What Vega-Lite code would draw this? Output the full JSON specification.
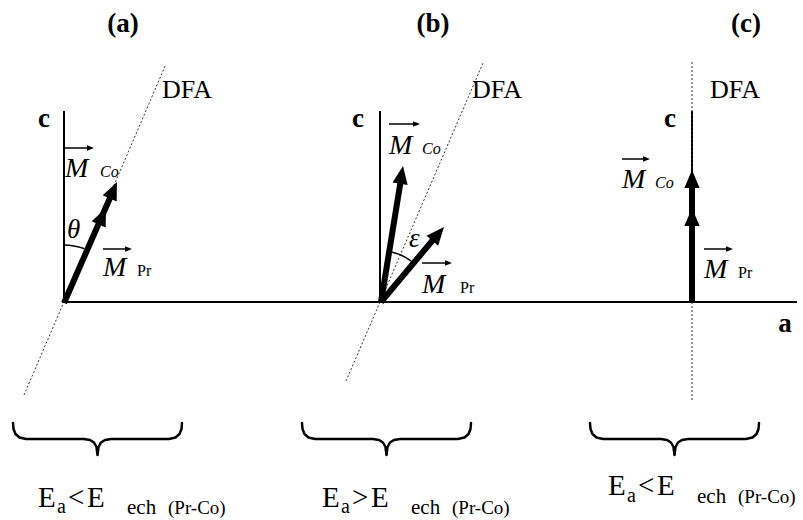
{
  "$schema": "https://vega.github.io/schema/vega-lite/v6.json",
  "width": 803,
  "height": 520,
  "padding": 0,
  "autosize": {"type": "fit", "contains": "padding"},
  "background": "white",
  "config": {"view": {"stroke": null}, "text": {"font": "'Liberation Serif', 'Times New Roman', 'DejaVu Serif', serif"}},
  "datasets": {
    "strokes": [
      {"kind": "frame", "id": "axis-a", "o": 0, "x": 62, "y": 302},
      {"kind": "frame", "id": "axis-a", "o": 1, "x": 797, "y": 302},
      {"kind": "frame", "id": "c-a", "o": 0, "x": 64, "y": 111},
      {"kind": "frame", "id": "c-a", "o": 1, "x": 64, "y": 302},
      {"kind": "frame", "id": "c-b", "o": 0, "x": 380, "y": 111},
      {"kind": "frame", "id": "c-b", "o": 1, "x": 380, "y": 302},
      {"kind": "frame", "id": "c-c", "o": 0, "x": 692, "y": 111},
      {"kind": "frame", "id": "c-c", "o": 1, "x": 692, "y": 302},
      {"kind": "dfa", "id": "dfa-a", "o": 0, "x": 24, "y": 395},
      {"kind": "dfa", "id": "dfa-a", "o": 1, "x": 166, "y": 64},
      {"kind": "dfa", "id": "dfa-b", "o": 0, "x": 346, "y": 381},
      {"kind": "dfa", "id": "dfa-b", "o": 1, "x": 483, "y": 63},
      {"kind": "dfa", "id": "dfa-c", "o": 0, "x": 692, "y": 62},
      {"kind": "dfa", "id": "dfa-c", "o": 1, "x": 692, "y": 400},
      {"kind": "vector", "id": "v-a", "o": 0, "x": 64, "y": 303},
      {"kind": "vector", "id": "v-a", "o": 1, "x": 113, "y": 191},
      {"kind": "vector", "id": "v-b-co", "o": 0, "x": 381, "y": 302},
      {"kind": "vector", "id": "v-b-co", "o": 1, "x": 401.5, "y": 176},
      {"kind": "vector", "id": "v-b-pr", "o": 0, "x": 381, "y": 302},
      {"kind": "vector", "id": "v-b-pr", "o": 1, "x": 437.5, "y": 234.5},
      {"kind": "vector", "id": "v-c", "o": 0, "x": 692, "y": 302},
      {"kind": "vector", "id": "v-c", "o": 1, "x": 692, "y": 180},
      {"kind": "arc", "id": "theta", "o": 0, "x": 64, "y": 245},
      {"kind": "arc", "id": "theta", "o": 1, "x": 69, "y": 245.2},
      {"kind": "arc", "id": "theta", "o": 2, "x": 73.9, "y": 245.9},
      {"kind": "arc", "id": "theta", "o": 3, "x": 78.8, "y": 246.9},
      {"kind": "arc", "id": "theta", "o": 4, "x": 84.4, "y": 248.8},
      {"kind": "arc", "id": "eps", "o": 0, "x": 391.4, "y": 252.1},
      {"kind": "arc", "id": "eps", "o": 1, "x": 396.5, "y": 253.4},
      {"kind": "arc", "id": "eps", "o": 2, "x": 401.3, "y": 255.3},
      {"kind": "arc", "id": "eps", "o": 3, "x": 406, "y": 257.7},
      {"kind": "arc", "id": "eps", "o": 4, "x": 411.1, "y": 261.1},
      {"kind": "over", "id": "o-a-co", "o": 0, "x": 65, "y": 148},
      {"kind": "over", "id": "o-a-co", "o": 1, "x": 88, "y": 148},
      {"kind": "over", "id": "o-a-pr", "o": 0, "x": 103, "y": 249},
      {"kind": "over", "id": "o-a-pr", "o": 1, "x": 126, "y": 249},
      {"kind": "over", "id": "o-b-co", "o": 0, "x": 389, "y": 124},
      {"kind": "over", "id": "o-b-co", "o": 1, "x": 414, "y": 124},
      {"kind": "over", "id": "o-b-pr", "o": 0, "x": 422, "y": 263},
      {"kind": "over", "id": "o-b-pr", "o": 1, "x": 446, "y": 263},
      {"kind": "over", "id": "o-c-co", "o": 0, "x": 622, "y": 159},
      {"kind": "over", "id": "o-c-co", "o": 1, "x": 644, "y": 159},
      {"kind": "over", "id": "o-c-pr", "o": 0, "x": 704, "y": 249},
      {"kind": "over", "id": "o-c-pr", "o": 1, "x": 727, "y": 249},
      {"kind": "brace", "id": "br-a", "o": 0, "x": 13, "y": 423},
      {"kind": "brace", "id": "br-a", "o": 1, "x": 13.5, "y": 429},
      {"kind": "brace", "id": "br-a", "o": 2, "x": 15.5, "y": 434},
      {"kind": "brace", "id": "br-a", "o": 3, "x": 19.5, "y": 437.5},
      {"kind": "brace", "id": "br-a", "o": 4, "x": 26, "y": 439},
      {"kind": "brace", "id": "br-a", "o": 5, "x": 84, "y": 439},
      {"kind": "brace", "id": "br-a", "o": 6, "x": 90, "y": 440},
      {"kind": "brace", "id": "br-a", "o": 7, "x": 94, "y": 442.5},
      {"kind": "brace", "id": "br-a", "o": 8, "x": 96.5, "y": 447},
      {"kind": "brace", "id": "br-a", "o": 9, "x": 97.5, "y": 455},
      {"kind": "brace", "id": "br-a", "o": 10, "x": 98.5, "y": 447},
      {"kind": "brace", "id": "br-a", "o": 11, "x": 101, "y": 442.5},
      {"kind": "brace", "id": "br-a", "o": 12, "x": 105, "y": 440},
      {"kind": "brace", "id": "br-a", "o": 13, "x": 111, "y": 439},
      {"kind": "brace", "id": "br-a", "o": 14, "x": 169, "y": 439},
      {"kind": "brace", "id": "br-a", "o": 15, "x": 175.5, "y": 437.5},
      {"kind": "brace", "id": "br-a", "o": 16, "x": 179.5, "y": 434},
      {"kind": "brace", "id": "br-a", "o": 17, "x": 181.5, "y": 429},
      {"kind": "brace", "id": "br-a", "o": 18, "x": 182, "y": 423},
      {"kind": "brace", "id": "br-b", "o": 0, "x": 302, "y": 423},
      {"kind": "brace", "id": "br-b", "o": 1, "x": 302.5, "y": 429},
      {"kind": "brace", "id": "br-b", "o": 2, "x": 304.5, "y": 434},
      {"kind": "brace", "id": "br-b", "o": 3, "x": 308.5, "y": 437.5},
      {"kind": "brace", "id": "br-b", "o": 4, "x": 315, "y": 439},
      {"kind": "brace", "id": "br-b", "o": 5, "x": 373, "y": 439},
      {"kind": "brace", "id": "br-b", "o": 6, "x": 379, "y": 440},
      {"kind": "brace", "id": "br-b", "o": 7, "x": 383, "y": 442.5},
      {"kind": "brace", "id": "br-b", "o": 8, "x": 385.5, "y": 447},
      {"kind": "brace", "id": "br-b", "o": 9, "x": 386.5, "y": 455},
      {"kind": "brace", "id": "br-b", "o": 10, "x": 387.5, "y": 447},
      {"kind": "brace", "id": "br-b", "o": 11, "x": 390, "y": 442.5},
      {"kind": "brace", "id": "br-b", "o": 12, "x": 394, "y": 440},
      {"kind": "brace", "id": "br-b", "o": 13, "x": 400, "y": 439},
      {"kind": "brace", "id": "br-b", "o": 14, "x": 458, "y": 439},
      {"kind": "brace", "id": "br-b", "o": 15, "x": 464.5, "y": 437.5},
      {"kind": "brace", "id": "br-b", "o": 16, "x": 468.5, "y": 434},
      {"kind": "brace", "id": "br-b", "o": 17, "x": 470.5, "y": 429},
      {"kind": "brace", "id": "br-b", "o": 18, "x": 471, "y": 423},
      {"kind": "brace", "id": "br-c", "o": 0, "x": 590, "y": 423},
      {"kind": "brace", "id": "br-c", "o": 1, "x": 590.5, "y": 429},
      {"kind": "brace", "id": "br-c", "o": 2, "x": 592.5, "y": 434},
      {"kind": "brace", "id": "br-c", "o": 3, "x": 596.5, "y": 437.5},
      {"kind": "brace", "id": "br-c", "o": 4, "x": 603, "y": 439},
      {"kind": "brace", "id": "br-c", "o": 5, "x": 661, "y": 439},
      {"kind": "brace", "id": "br-c", "o": 6, "x": 667, "y": 440},
      {"kind": "brace", "id": "br-c", "o": 7, "x": 671, "y": 442.5},
      {"kind": "brace", "id": "br-c", "o": 8, "x": 673.5, "y": 447},
      {"kind": "brace", "id": "br-c", "o": 9, "x": 674.5, "y": 455},
      {"kind": "brace", "id": "br-c", "o": 10, "x": 675.5, "y": 447},
      {"kind": "brace", "id": "br-c", "o": 11, "x": 678, "y": 442.5},
      {"kind": "brace", "id": "br-c", "o": 12, "x": 682, "y": 440},
      {"kind": "brace", "id": "br-c", "o": 13, "x": 688, "y": 439},
      {"kind": "brace", "id": "br-c", "o": 14, "x": 746, "y": 439},
      {"kind": "brace", "id": "br-c", "o": 15, "x": 752.5, "y": 437.5},
      {"kind": "brace", "id": "br-c", "o": 16, "x": 756.5, "y": 434},
      {"kind": "brace", "id": "br-c", "o": 17, "x": 758.5, "y": 429},
      {"kind": "brace", "id": "br-c", "o": 18, "x": 759, "y": 423}
    ],
    "heads": [
      {"kind": "big", "x": 106, "y": 208, "angle": 24},
      {"kind": "big", "x": 117, "y": 182, "angle": 24},
      {"kind": "big", "x": 403, "y": 166, "angle": 9.3},
      {"kind": "big", "x": 444, "y": 227, "angle": 40.4},
      {"kind": "big", "x": 692, "y": 170, "angle": 0},
      {"kind": "big", "x": 692, "y": 208, "angle": 0},
      {"kind": "small", "x": 94, "y": 148, "angle": 90},
      {"kind": "small", "x": 132, "y": 249, "angle": 90},
      {"kind": "small", "x": 420, "y": 124, "angle": 90},
      {"kind": "small", "x": 452, "y": 263, "angle": 90},
      {"kind": "small", "x": 650, "y": 159, "angle": 90},
      {"kind": "small", "x": 733, "y": 249, "angle": 90}
    ],
    "labels": [
      {"role": "title", "x": 123, "y": 32, "text": "(a)"},
      {"role": "title", "x": 433, "y": 32, "text": "(b)"},
      {"role": "title", "x": 746, "y": 32, "text": "(c)"},
      {"role": "axis", "x": 44, "y": 127, "text": "c"},
      {"role": "axis", "x": 358, "y": 127, "text": "c"},
      {"role": "axis", "x": 670, "y": 127, "text": "c"},
      {"role": "axis", "x": 785, "y": 332, "text": "a"},
      {"role": "dfa", "x": 162, "y": 98, "text": "DFA"},
      {"role": "dfa", "x": 472, "y": 98, "text": "DFA"},
      {"role": "dfa", "x": 710, "y": 98, "text": "DFA"},
      {"role": "M", "x": 65, "y": 177, "text": "M"},
      {"role": "M", "x": 389, "y": 154, "text": "M"},
      {"role": "M", "x": 622, "y": 188, "text": "M"},
      {"role": "M", "x": 103, "y": 276, "text": "M"},
      {"role": "M", "x": 422, "y": 293, "text": "M"},
      {"role": "M", "x": 704, "y": 278, "text": "M"},
      {"role": "co", "x": 100, "y": 177, "text": "Co"},
      {"role": "co", "x": 422, "y": 154, "text": "Co"},
      {"role": "co", "x": 655, "y": 188, "text": "Co"},
      {"role": "pr", "x": 137, "y": 276, "text": "Pr"},
      {"role": "pr", "x": 460, "y": 293, "text": "Pr"},
      {"role": "pr", "x": 738, "y": 278, "text": "Pr"},
      {"role": "greek", "x": 67, "y": 238, "text": "θ"},
      {"role": "greek", "x": 409, "y": 247, "text": "ε"},
      {"role": "big", "x": 38, "y": 507, "text": "E"},
      {"role": "sub", "x": 57, "y": 513, "text": "a"},
      {"role": "big", "x": 68, "y": 507, "text": "<"},
      {"role": "big", "x": 87, "y": 507, "text": "E"},
      {"role": "ech", "x": 127, "y": 514, "text": "ech"},
      {"role": "pc", "x": 168, "y": 514, "text": "(Pr-Co)"},
      {"role": "big", "x": 322, "y": 507, "text": "E"},
      {"role": "sub", "x": 341, "y": 513, "text": "a"},
      {"role": "big", "x": 352, "y": 507, "text": ">"},
      {"role": "big", "x": 371, "y": 507, "text": "E"},
      {"role": "ech", "x": 411, "y": 514, "text": "ech"},
      {"role": "pc", "x": 452, "y": 514, "text": "(Pr-Co)"},
      {"role": "big", "x": 608, "y": 495, "text": "E"},
      {"role": "sub", "x": 627, "y": 502, "text": "a"},
      {"role": "big", "x": 638, "y": 495, "text": "<"},
      {"role": "big", "x": 657, "y": 495, "text": "E"},
      {"role": "ech", "x": 697, "y": 503, "text": "ech"},
      {"role": "pc", "x": 738, "y": 503, "text": "(Pr-Co)"}
    ]
  },
  "encoding": {
    "x": {"field": "x", "type": "quantitative", "axis": null, "scale": {"domain": [0, 803], "nice": false, "zero": false}},
    "y": {"field": "y", "type": "quantitative", "axis": null, "scale": {"domain": [520, 0], "nice": false, "zero": false}}
  },
  "layer": [
    {
      "data": {"name": "strokes"},
      "transform": [{"filter": "datum.kind === 'frame'"}],
      "mark": {"type": "line", "color": "black", "strokeWidth": 2, "strokeCap": "butt"},
      "encoding": {"detail": {"field": "id"}, "order": {"field": "o", "type": "quantitative"}}
    },
    {
      "data": {"name": "strokes"},
      "transform": [{"filter": "datum.kind === 'dfa'"}],
      "mark": {"type": "line", "color": "#333333", "strokeWidth": 1, "strokeDash": [2, 2]},
      "encoding": {"detail": {"field": "id"}, "order": {"field": "o", "type": "quantitative"}}
    },
    {
      "data": {"name": "strokes"},
      "transform": [{"filter": "datum.kind === 'vector'"}],
      "mark": {"type": "line", "color": "black", "strokeWidth": 6, "strokeCap": "butt"},
      "encoding": {"detail": {"field": "id"}, "order": {"field": "o", "type": "quantitative"}}
    },
    {
      "data": {"name": "strokes"},
      "transform": [{"filter": "datum.kind === 'arc'"}],
      "mark": {"type": "line", "color": "black", "strokeWidth": 1.5},
      "encoding": {"detail": {"field": "id"}, "order": {"field": "o", "type": "quantitative"}}
    },
    {
      "data": {"name": "strokes"},
      "transform": [{"filter": "datum.kind === 'over'"}],
      "mark": {"type": "line", "color": "black", "strokeWidth": 1.5, "strokeCap": "butt"},
      "encoding": {"detail": {"field": "id"}, "order": {"field": "o", "type": "quantitative"}}
    },
    {
      "data": {"name": "strokes"},
      "transform": [{"filter": "datum.kind === 'brace'"}],
      "mark": {"type": "line", "color": "black", "strokeWidth": 2.5, "strokeJoin": "round", "strokeCap": "round"},
      "encoding": {"detail": {"field": "id"}, "order": {"field": "o", "type": "quantitative"}}
    },
    {
      "data": {"name": "heads"},
      "transform": [{"filter": "datum.kind === 'big'"}],
      "mark": {"type": "point", "shape": "M0,0L0.85,2L-0.85,2Z", "size": 324, "filled": true, "color": "black", "opacity": 1},
      "encoding": {"angle": {"field": "angle", "type": "quantitative", "scale": null}}
    },
    {
      "data": {"name": "heads"},
      "transform": [{"filter": "datum.kind === 'small'"}],
      "mark": {"type": "point", "shape": "M0,0L0.8,2L-0.8,2Z", "size": 49, "filled": true, "color": "black", "opacity": 1},
      "encoding": {"angle": {"field": "angle", "type": "quantitative", "scale": null}}
    },
    {
      "data": {"name": "labels"},
      "transform": [{"filter": "datum.role === 'title'"}],
      "mark": {"type": "text", "fontWeight": "bold", "fontSize": 27, "align": "center", "baseline": "alphabetic", "color": "black"},
      "encoding": {"text": {"field": "text"}}
    },
    {
      "data": {"name": "labels"},
      "transform": [{"filter": "datum.role === 'axis'"}],
      "mark": {"type": "text", "fontWeight": "bold", "fontSize": 27, "align": "center", "baseline": "alphabetic", "color": "black"},
      "encoding": {"text": {"field": "text"}}
    },
    {
      "data": {"name": "labels"},
      "transform": [{"filter": "datum.role === 'dfa'"}],
      "mark": {"type": "text", "fontSize": 26, "align": "left", "baseline": "alphabetic", "color": "black"},
      "encoding": {"text": {"field": "text"}}
    },
    {
      "data": {"name": "labels"},
      "transform": [{"filter": "datum.role === 'M'"}],
      "mark": {"type": "text", "fontStyle": "italic", "fontSize": 28, "align": "left", "baseline": "alphabetic", "color": "black"},
      "encoding": {"text": {"field": "text"}}
    },
    {
      "data": {"name": "labels"},
      "transform": [{"filter": "datum.role === 'co'"}],
      "mark": {"type": "text", "fontStyle": "italic", "fontSize": 16, "align": "left", "baseline": "alphabetic", "color": "black"},
      "encoding": {"text": {"field": "text"}}
    },
    {
      "data": {"name": "labels"},
      "transform": [{"filter": "datum.role === 'pr'"}],
      "mark": {"type": "text", "fontSize": 16, "align": "left", "baseline": "alphabetic", "color": "black"},
      "encoding": {"text": {"field": "text"}}
    },
    {
      "data": {"name": "labels"},
      "transform": [{"filter": "datum.role === 'greek'"}],
      "mark": {"type": "text", "fontStyle": "italic", "fontSize": 27, "align": "left", "baseline": "alphabetic", "color": "black"},
      "encoding": {"text": {"field": "text"}}
    },
    {
      "data": {"name": "labels"},
      "transform": [{"filter": "datum.role === 'big'"}],
      "mark": {"type": "text", "fontSize": 29, "align": "left", "baseline": "alphabetic", "color": "black"},
      "encoding": {"text": {"field": "text"}}
    },
    {
      "data": {"name": "labels"},
      "transform": [{"filter": "datum.role === 'sub'"}],
      "mark": {"type": "text", "fontSize": 20, "align": "left", "baseline": "alphabetic", "color": "black"},
      "encoding": {"text": {"field": "text"}}
    },
    {
      "data": {"name": "labels"},
      "transform": [{"filter": "datum.role === 'ech'"}],
      "mark": {"type": "text", "fontSize": 21, "align": "left", "baseline": "alphabetic", "color": "black"},
      "encoding": {"text": {"field": "text"}}
    },
    {
      "data": {"name": "labels"},
      "transform": [{"filter": "datum.role === 'pc'"}],
      "mark": {"type": "text", "fontSize": 19, "align": "left", "baseline": "alphabetic", "color": "black"},
      "encoding": {"text": {"field": "text"}}
    }
  ]
}
